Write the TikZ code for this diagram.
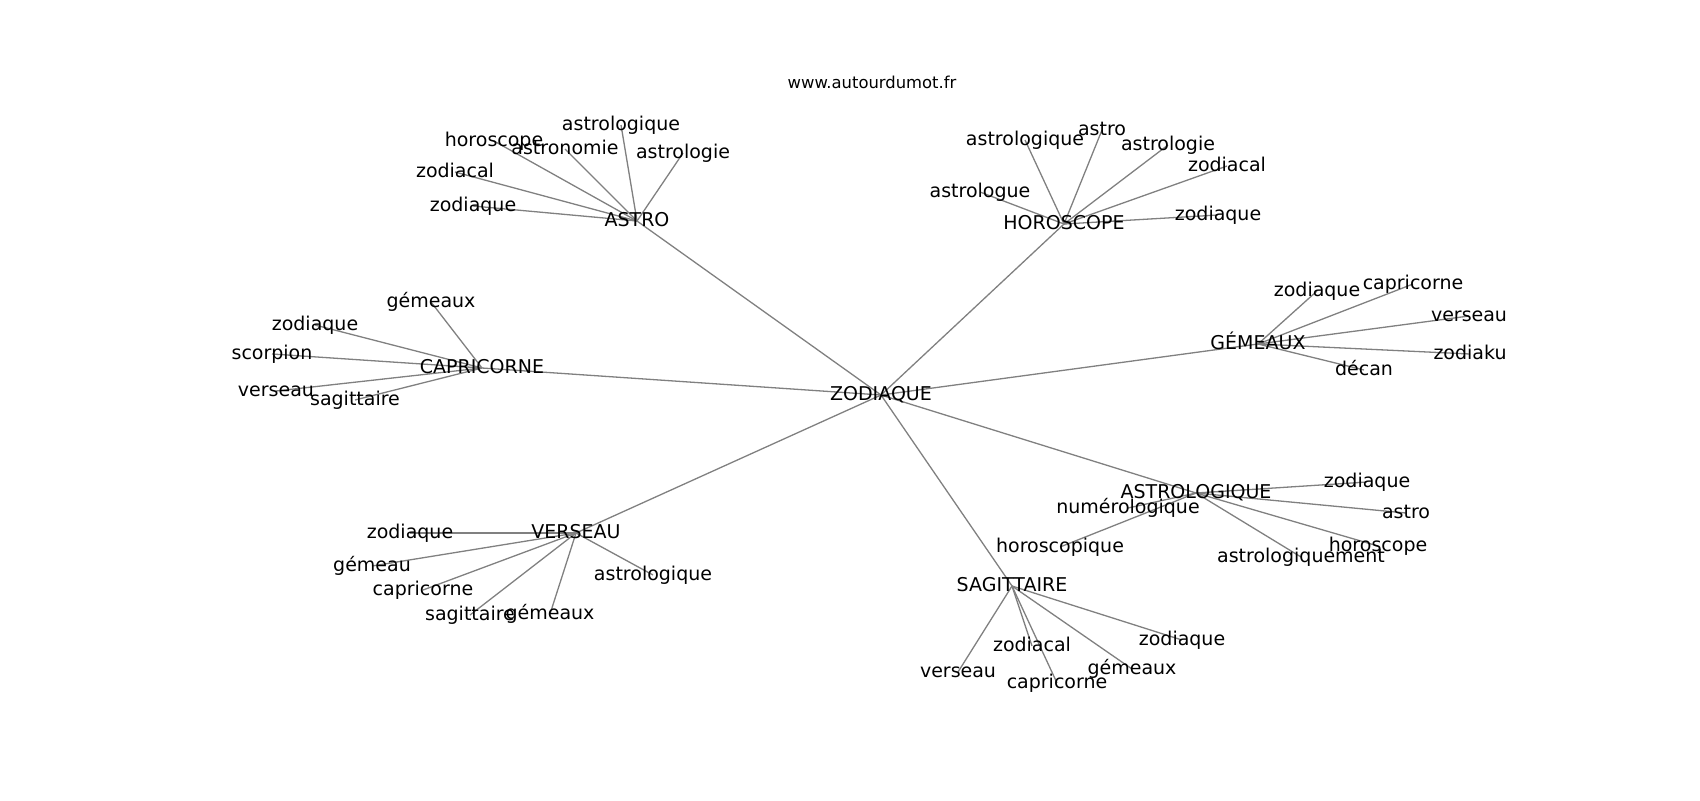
\documentclass[tikz,border=0pt]{standalone}
\usepackage{fontspec}
\setmainfont{DejaVu Sans}
\usetikzlibrary{backgrounds}
\definecolor{edgegray}{RGB}{128,128,128}
\begin{document}
\begin{tikzpicture}[x=0.5pt,y=-0.5pt,
  lbl/.style={inner sep=0pt, text height=0.76em, text depth=0.236em, font=\fontsize{9.5}{11}\selectfont},
  ttl/.style={inner sep=0pt, text height=0.76em, text depth=0.236em, font=\fontsize{8.2}{10}\selectfont},
  edge/.style={draw=edgegray, line width=0.65pt}]
\useasboundingbox (0,0) rectangle (1700,800);

\node[ttl] (title) at (872,83) {www.autourdumot.fr};

\node[lbl] (z) at (881,395) {ZODIAQUE};

\node[lbl] (astro) at (637,221) {ASTRO};
\node[lbl] (a1) at (494,141) {horoscope};
\node[lbl] (a2) at (565,149) {astronomie};
\node[lbl] (a3) at (621,125) {astrologique};
\node[lbl] (a4) at (683,153) {astrologie};
\node[lbl] (a5) at (455,172) {zodiacal};
\node[lbl] (a6) at (473,206) {zodiaque};

\node[lbl] (horo) at (1064,224) {HOROSCOPE};
\node[lbl] (h1) at (1025,140) {astrologique};
\node[lbl] (h2) at (1102,130) {astro};
\node[lbl] (h3) at (1168,145) {astrologie};
\node[lbl] (h4) at (1227,166) {zodiacal};
\node[lbl] (h5) at (980,192) {astrologue};
\node[lbl] (h6) at (1218,215) {zodiaque};

\node[lbl] (gem) at (1258,344) {GÉMEAUX};
\node[lbl] (g1) at (1317,291) {zodiaque};
\node[lbl] (g2) at (1413,284) {capricorne};
\node[lbl] (g3) at (1469,316) {verseau};
\node[lbl] (g4) at (1470,354) {zodiaku};
\node[lbl] (g5) at (1364,370) {décan};

\node[lbl] (capr) at (482,368) {CAPRICORNE};
\node[lbl] (c1) at (431,302) {gémeaux};
\node[lbl] (c2) at (315,325) {zodiaque};
\node[lbl] (c3) at (272,354) {scorpion};
\node[lbl] (c4) at (276,391) {verseau};
\node[lbl] (c5) at (355,400) {sagittaire};

\node[lbl] (vers) at (576,533) {VERSEAU};
\node[lbl] (v1) at (410,533) {zodiaque};
\node[lbl] (v2) at (372,566) {gémeau};
\node[lbl] (v3) at (423,590) {capricorne};
\node[lbl] (v4) at (470,615) {sagittaire};
\node[lbl] (v5) at (550,614) {gémeaux};
\node[lbl] (v6) at (653,575) {astrologique};

\node[lbl] (astrol) at (1196,493) {ASTROLOGIQUE};
\node[lbl] (l1) at (1367,482) {zodiaque};
\node[lbl] (l2) at (1406,513) {astro};
\node[lbl] (l3) at (1378,546) {horoscope};
\node[lbl] (l4) at (1301,557) {astrologiquement};
\node[lbl] (l5) at (1128,508) {numérologique};
\node[lbl] (l6) at (1060,547) {horoscopique};

\node[lbl] (sag) at (1012,586) {SAGITTAIRE};
\node[lbl] (s1) at (958,672) {verseau};
\node[lbl] (s2) at (1032,646) {zodiacal};
\node[lbl] (s3) at (1057,683) {capricorne};
\node[lbl] (s4) at (1132,669) {gémeaux};
\node[lbl] (s5) at (1182,640) {zodiaque};

\begin{pgfonlayer}{background}
\foreach \n in {astro,horo,gem,capr,vers,astrol,sag}
  \draw[edge] (z.center) -- (\n.center);
\foreach \n in {a1,a2,a3,a4,a5,a6}
  \draw[edge] (astro.center) -- (\n.center);
\foreach \n in {h1,h2,h3,h4,h5,h6}
  \draw[edge] (horo.center) -- (\n.center);
\foreach \n in {g1,g2,g3,g4,g5}
  \draw[edge] (gem.center) -- (\n.center);
\foreach \n in {c1,c2,c3,c4,c5}
  \draw[edge] (capr.center) -- (\n.center);
\foreach \n in {v1,v2,v3,v4,v5,v6}
  \draw[edge] (vers.center) -- (\n.center);
\foreach \n in {l1,l2,l3,l4,l5,l6}
  \draw[edge] (astrol.center) -- (\n.center);
\foreach \n in {s1,s2,s3,s4,s5}
  \draw[edge] (sag.center) -- (\n.center);
\end{pgfonlayer}
\end{tikzpicture}
\end{document}
